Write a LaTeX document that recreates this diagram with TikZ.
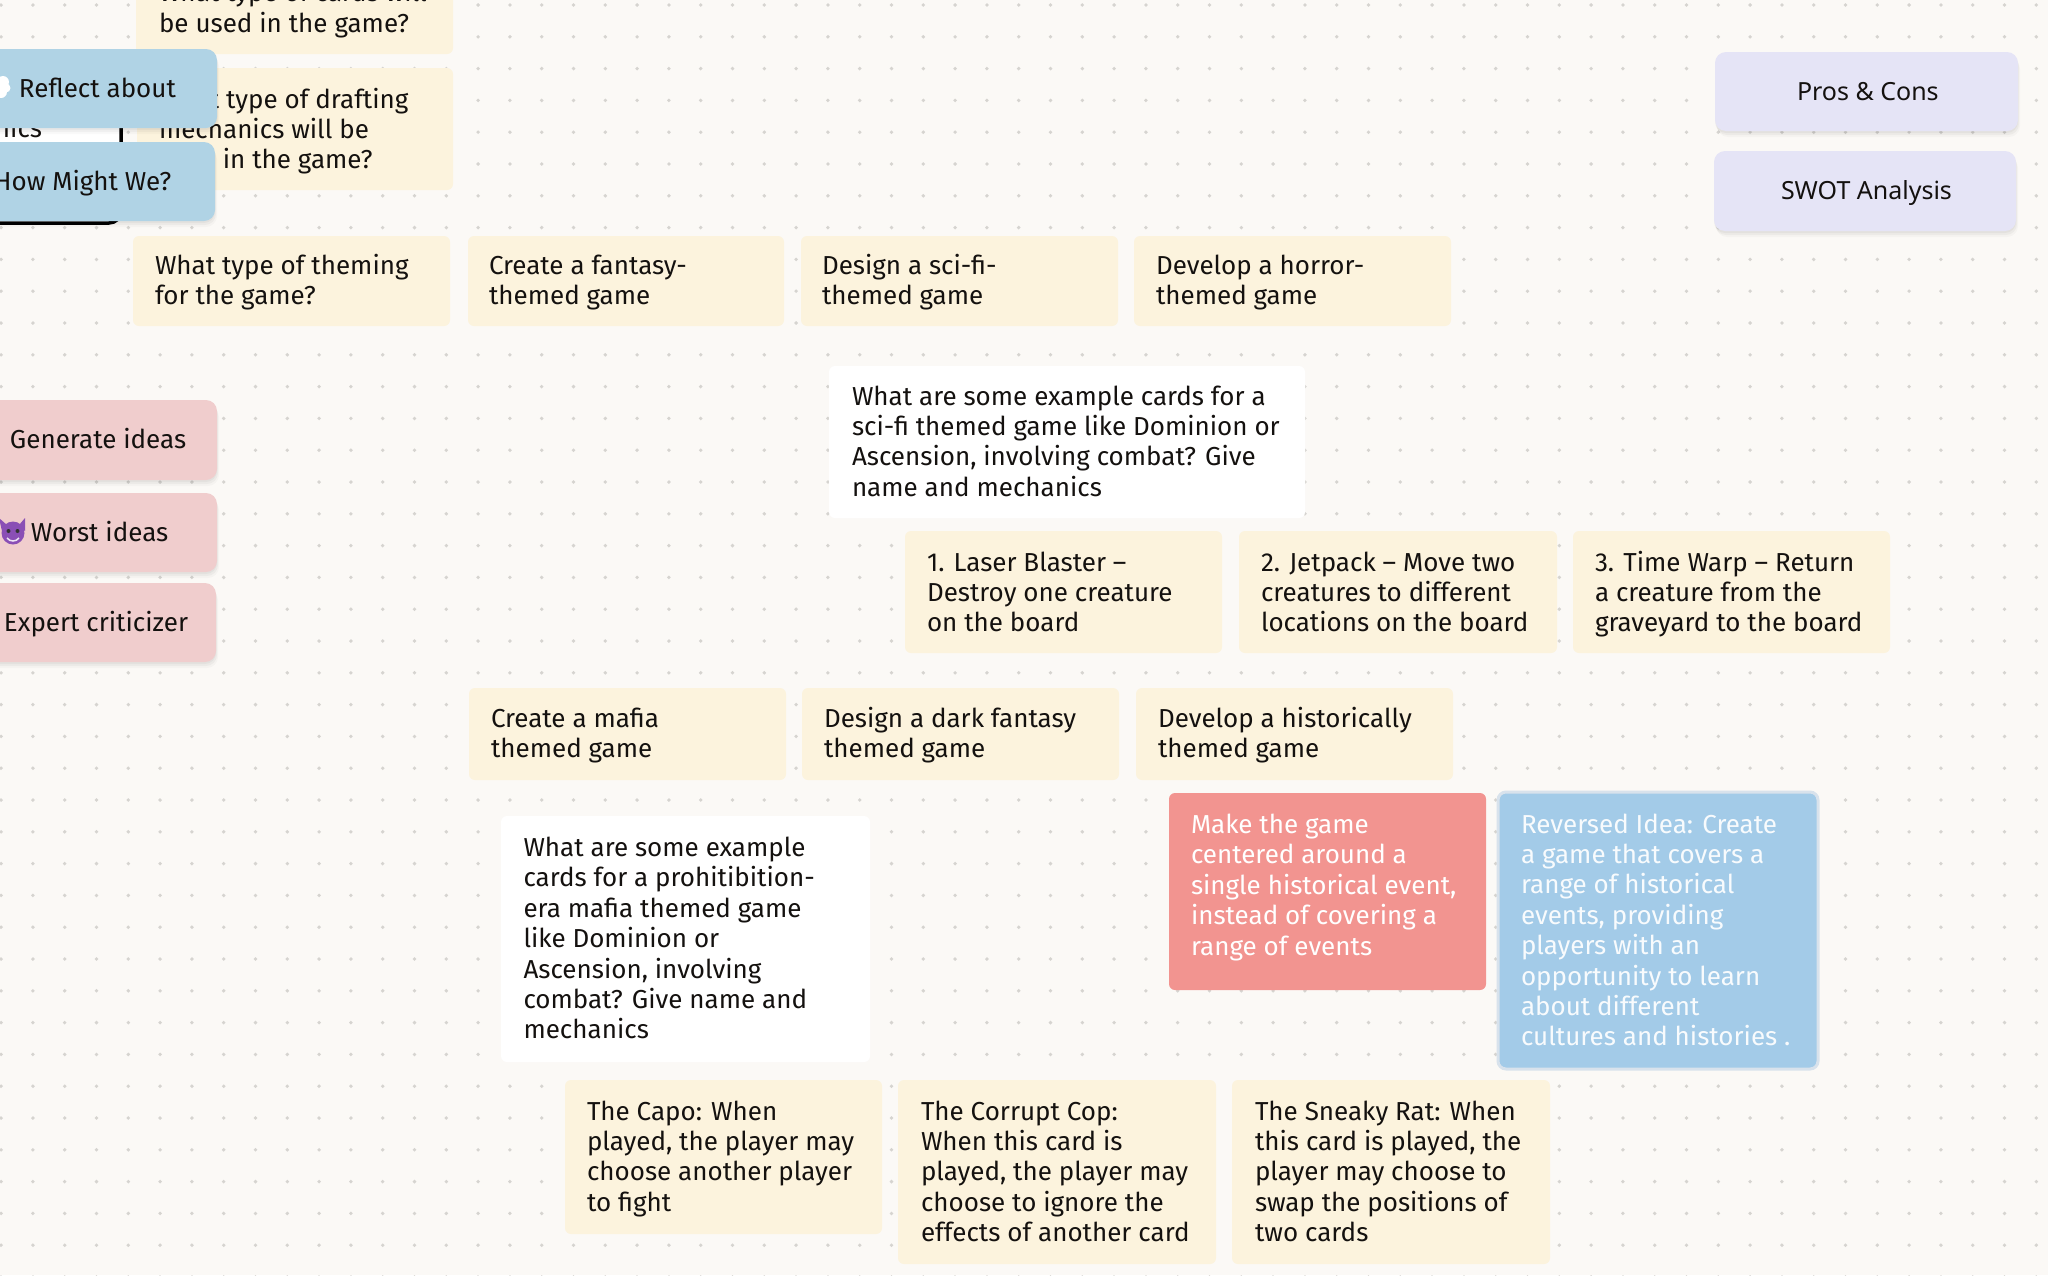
\documentclass[tikz,border=0pt]{standalone}
\usepackage{fontspec}
\setmainfont{Fira Sans}
\newfontfamily\uifont{Noto Sans}
\usetikzlibrary{shadows}
\definecolor{bgc}{HTML}{FBF9F6}
\definecolor{dotc}{HTML}{D6D4D0}
\definecolor{cardc}{HTML}{FCF3DD}
\definecolor{pinkc}{HTML}{F0CDCD}
\definecolor{bluec}{HTML}{B0D3E5}
\definecolor{lilacc}{HTML}{E5E4F6}
\definecolor{redc}{HTML}{F29490}
\definecolor{skyc}{HTML}{A3CBE8}
\definecolor{skyb}{HTML}{D8E2EC}
\definecolor{inkc}{HTML}{14110F}
\definecolor{devilc}{HTML}{8A4FB5}
\newcommand\card[9]{%
  \pgfmathsetlengthmacro\cw{(#4-#2)*1pt}%
  \pgfmathsetlengthmacro\ch{(#5-#3)*1pt}%
  \node[#6,anchor=north west,inner sep=0pt,outer sep=0pt,minimum width=\cw,minimum height=\ch] (#1) at (#2,#3) {%
    \begin{minipage}[t][\ch][t]{\cw}\leftskip=#8pt \rightskip=-300pt plus 1fil \parfillskip=0pt plus 1fil \parindent=0pt
    \rule{0pt}{#7pt}#9\end{minipage}};}
\tikzset{
  x=1pt,y=-1pt,
  basebox/.style={rectangle,font=\fontsize{26}{30.4}\selectfont,text=inkc},
  sticky/.style={basebox,fill=cardc,rounded corners=6pt},
  prompt/.style={basebox,fill=white,rounded corners=6pt},
  softshadow/.style={drop shadow={shadow xshift=0pt,shadow yshift=-2pt,opacity=.035,fill=black},drop shadow={shadow xshift=1pt,shadow yshift=-4pt,opacity=.035,fill=black},drop shadow={shadow xshift=2pt,shadow yshift=-6pt,opacity=.025,fill=black}},
  bluebtn/.style={basebox,fill=bluec,rounded corners=11pt,softshadow},
  pinkbtn/.style={basebox,fill=pinkc,rounded corners=11pt,softshadow},
  lilacbtn/.style={basebox,fill=lilacc,rounded corners=11pt,softshadow,font=\uifont\fontsize{25}{30.4}\selectfont},
  redcard/.style={basebox,fill=redc,rounded corners=6pt,text=white},
  skycard/.style={basebox,fill=skyc,draw=skyb,line width=3pt,rounded corners=8pt,text=white!92!skyc},
  oldcard/.style={basebox,fill=white,draw=black,line width=3.5pt,rounded corners=12pt},
}
\begin{document}
\begin{tikzpicture}
\useasboundingbox (0,0) rectangle (2048,1275);
\clip (0,0) rectangle (2048,1275);
\fill[bgc] (0,0) rectangle (2048,1275);
\foreach \i in {-3,...,61}{\foreach \j in {0,...,40}{
  \fill[dotc] ({96.5+31.8*\i},{5+31.8*\j}) circle[radius=1.9];}}

\card{c1}{136}{-40}{453}{54}{sticky}{41.6}{23}{What type of cards will\\be used in the game?}
\card{c2}{137}{68}{453}{190}{sticky}{40}{22}{What type of drafting\\mechanics will be\\used in the game?}
\card{old}{-60}{70}{121}{223}{oldcard}{67}{55}{nics}
\card{t0}{133}{236}{450}{326}{sticky}{38.5}{22}{What type of theming\\for the game?}
\card{t1}{468}{236}{784}{326}{sticky}{38.5}{21}{Create a fantasy-\\themed game}
\card{t2}{801}{236}{1118}{326}{sticky}{38.5}{21}{Design a sci-fi-\\themed game}
\card{t3}{1134}{236}{1451}{326}{sticky}{38.5}{22}{Develop a horror-\\themed game}
\card{w1}{829}{366}{1305}{518}{prompt}{39}{23}{What are some example cards for a\\sci-fi themed game like Dominion or\\Ascension, involving combat? Give\\name and mechanics}
\card{s1}{905}{531}{1222}{653}{sticky}{40}{22}{1. Laser Blaster –\\Destroy one creature\\on the board}
\card{s2}{1239}{531}{1557}{653}{sticky}{40}{22}{2. Jetpack – Move two\\creatures to different\\locations on the board}
\card{s3}{1573}{531}{1890}{653}{sticky}{40}{22}{3. Time Warp – Return\\a creature from the\\graveyard to the board}
\card{m1}{469}{688}{786}{780}{sticky}{39.5}{22}{Create a mafia\\themed game}
\card{m2}{802}{688}{1119}{780}{sticky}{39.5}{22}{Design a dark fantasy\\themed game}
\card{m3}{1136}{688}{1453}{780}{sticky}{39.5}{22}{Develop a historically\\themed game}
\card{red}{1169}{793}{1486}{990}{redcard}{40.5}{22}{Make the game\\centered around a\\single historical event,\\instead of covering a\\range of events}
\card{sky}{1498}{792}{1818}{1069}{skycard}{41}{23}{Reversed Idea: Create\\a game that covers a\\range of historical\\events, providing\\players with an\\opportunity to learn\\about different\\cultures and histories .}
\card{w2}{501}{816}{870}{1062}{prompt}{40.5}{22.5}{What are some example\\cards for a prohitibition-\\era mafia themed game\\like Dominion or\\Ascension, involving\\combat? Give name and\\mechanics}
\card{k1}{565}{1080}{882}{1234}{sticky}{40}{22}{The Capo: When\\played, the player may\\choose another player\\to fight}
\card{k2}{898}{1080}{1216}{1264}{sticky}{40}{23}{The Corrupt Cop:\\When this card is\\played, the player may\\choose to ignore the\\effects of another card}
\card{k3}{1232}{1080}{1550}{1264}{sticky}{40}{23}{The Sneaky Rat: When\\this card is played, the\\player may choose to\\swap the positions of\\two cards}

\card{reflect}{-60}{49}{217}{128}{bluebtn}{48}{79}{Reflect about}
\card{hmw}{-60}{142}{215}{221}{bluebtn}{48}{54}{How Might We?}
\card{gen}{-60}{400}{217}{480}{pinkbtn}{48.5}{70}{Generate ideas}
\card{worst}{-60}{493}{217}{572}{pinkbtn}{48.5}{91}{Worst ideas}
\card{expert}{-60}{583}{216}{662}{pinkbtn}{48.5}{64}{Expert criticizer}
\card{pros}{1715}{52}{2018}{131}{lilacbtn}{48.5}{82}{Pros \& Cons}
\card{swot}{1714}{151}{2016}{231}{lilacbtn}{48.5}{67}{SWOT Analysis}

% cloud emoji, cut off by the left edge
\fill[white] (3,82) circle[radius=6] (6,88) circle[radius=4.5] (1,92) circle[radius=6];
% devil emoji, cut off by the left edge
\fill[devilc] (13,533) circle[radius=11.5];
\fill[devilc] (19,525) -- (25,518) -- (25,531) -- cycle;
\fill[devilc] (7,525) -- (-1,518) -- (2,531) -- cycle;
\fill[black!80] (8.5,531) circle[radius=2] (17.5,531) circle[radius=2];
\draw[white!85!devilc,line width=1.5pt] (7,538) .. controls (10,542) and (16,542) .. (19,538);
\end{tikzpicture}
\end{document}
